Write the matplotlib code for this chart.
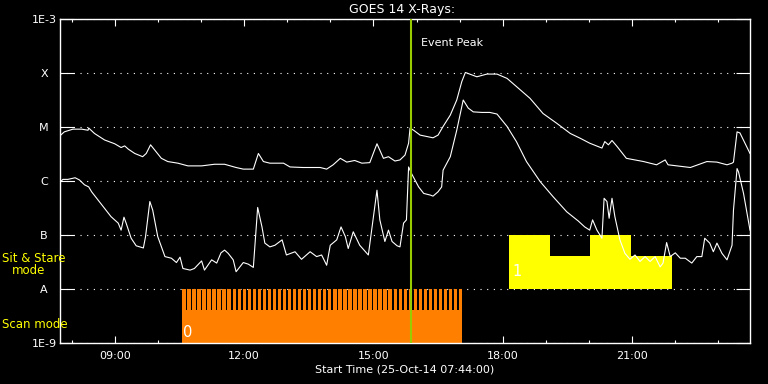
from datetime import datetime, timedelta

import matplotlib
matplotlib.use("Agg")
import matplotlib.pyplot as plt
import matplotlib.dates as mdates
from matplotlib.ticker import NullLocator

# Start of the plot window
start_time = datetime(2014, 10, 25, 7, 44, 0)

# GOES 14 long channel (1-8 A): minutes after start, log10 flux [W/m^2]
long_min = [1, 6, 18, 30, 39, 40, 48, 62, 76, 85, 90, 95, 104, 115, 120, 126, 132,
            141, 150, 164, 178, 197, 215, 229, 245, 255, 269, 276, 283, 292, 311,
            320, 338, 362, 371, 380, 390, 399, 410, 420, 431, 441, 450, 457, 466,
            473, 480, 485, 487, 492, 501, 519, 526, 533, 543, 552, 559, 564, 580,
            594, 608, 622, 635, 654, 672, 691, 710, 724, 737, 754, 758, 763, 768,
            775, 788, 812, 830, 842, 846, 877, 900, 914, 928, 935, 937, 942, 946, 960]
long_log = [-5.15, -5.09, -5.04, -5.04, -5.06, -5.02, -5.12, -5.24, -5.31, -5.38,
            -5.35, -5.41, -5.49, -5.55, -5.49, -5.33, -5.43, -5.58, -5.64, -5.67,
            -5.72, -5.72, -5.69, -5.69, -5.75, -5.78, -5.78, -5.49, -5.64, -5.67,
            -5.67, -5.74, -5.75, -5.75, -5.78, -5.70, -5.58, -5.65, -5.62, -5.67,
            -5.66, -5.31, -5.58, -5.55, -5.63, -5.61, -5.52, -5.30, -5.02, -5.06,
            -5.15, -5.20, -5.15, -4.99, -4.78, -4.50, -4.16, -3.99, -4.07, -4.02,
            -4.02, -4.10, -4.25, -4.47, -4.75, -4.93, -5.12, -5.21, -5.30, -5.39,
            -5.27, -5.33, -5.25, -5.36, -5.58, -5.64, -5.70, -5.61, -5.70, -5.75,
            -5.64, -5.65, -5.70, -5.67, -5.65, -5.09, -5.11, -5.49]

# GOES 14 short channel (0.5-4 A)
short_min = [1, 4, 11, 21, 27, 34, 40, 44, 58, 71, 81, 85, 89, 92, 99, 106, 116,
             119, 125, 129, 136, 146, 155, 162, 167, 171, 181, 187, 197, 201, 211,
             218, 224, 229, 234, 241, 245, 255, 262, 269, 275, 281, 285, 292, 299,
             309, 315, 327, 336, 348, 357, 364, 371, 376, 385, 391, 397, 401, 408,
             417, 429, 441, 445, 452, 457, 462, 469, 473, 478, 482, 485, 489, 499,
             506, 515, 519, 526, 531, 533, 543, 552, 561, 568, 575, 587, 598, 608,
             622, 635, 649, 668, 686, 705, 721, 730, 737, 741, 747, 754, 757, 761,
             764, 768, 772, 779, 786, 793, 800, 807, 814, 821, 828, 835, 839, 844,
             849, 856, 863, 870, 879, 886, 893, 897, 904, 909, 914, 921, 928, 935,
             937, 942, 944, 951, 960]
short_log = [-6.01, -5.97, -5.97, -5.94, -5.98, -6.07, -6.11, -6.20, -6.44, -6.66,
             -6.78, -6.91, -6.67, -6.78, -7.06, -7.20, -7.24, -7.03, -6.38, -6.54,
             -7.03, -7.40, -7.43, -7.51, -7.41, -7.62, -7.65, -7.62, -7.48, -7.65,
             -7.46, -7.52, -7.33, -7.28, -7.34, -7.46, -7.68, -7.51, -7.54, -7.60,
             -6.49, -6.85, -7.15, -7.22, -7.19, -7.09, -7.37, -7.31, -7.45, -7.31,
             -7.40, -7.37, -7.56, -7.19, -7.09, -6.85, -7.03, -7.25, -6.94, -7.19,
             -7.37, -6.17, -6.72, -7.12, -6.91, -7.12, -7.20, -7.22, -6.78, -6.72,
             -5.74, -5.86, -6.11, -6.23, -6.26, -6.28, -6.20, -6.11, -5.80, -5.55,
             -5.06, -4.50, -4.65, -4.72, -4.73, -4.73, -4.76, -4.99, -5.27, -5.64,
             -6.01, -6.29, -6.57, -6.74, -6.85, -6.91, -6.72, -6.91, -7.06, -6.32,
             -6.38, -6.69, -6.32, -6.66, -7.09, -7.34, -7.45, -7.37, -7.49, -7.40,
             -7.49, -7.40, -7.59, -7.52, -7.14, -7.40, -7.33, -7.43, -7.43, -7.52,
             -7.40, -7.40, -7.06, -7.15, -7.31, -7.15, -7.34, -7.46, -7.19, -6.54,
             -5.77, -5.83, -6.23, -6.91]

# Event peak (minutes after start)
event_peak_min = 488

# Scan mode observations (mode 0)
scan_first_min = 170
scan_last_min = 559
scan_cadence_min = 7.0
scan_exposure_min = 4.7
scan_base_top = 4.1e-9

# Sit & Stare observations (mode 1): start, end, top level
stare_start_min = [625, 682, 737, 794]
stare_end_min = [682, 737, 794, 852]
stare_top = [1e-7, 4.1e-8, 1e-7, 4.1e-8]

ytick_vals = [1e-9, 1e-8, 1e-7, 1e-6, 1e-5, 1e-4, 1e-3]
ytick_labels = ['1E-9', 'A', 'B', 'C', 'M', 'X', '1E-3']


def to_time(m):
    return start_time + timedelta(minutes=m)


fig = plt.figure(figsize=(7.68, 3.84), dpi=100, facecolor='black')
ax = fig.add_axes([60 / 768, 1 - 343 / 384, 690 / 768, 324 / 384])
ax.set_facecolor('black')
ax.set_yscale('log')

# Scan mode comb
minute = 1 / 1440.0
ax.bar(to_time(scan_first_min), scan_base_top - 1e-9, bottom=1e-9,
       width=(scan_last_min - scan_first_min) * minute, align='edge',
       color='#ff8000', linewidth=0, zorder=2)
scan_times = []
m = scan_first_min
while m < scan_last_min:
    scan_times.append(to_time(m))
    m += scan_cadence_min
scan_widths = [min(scan_exposure_min, scan_last_min - (t - start_time).total_seconds() / 60) * minute
               for t in scan_times]
ax.bar(scan_times, [9e-9] * len(scan_times), bottom=1e-9,
       width=scan_widths, align='edge',
       color='#ff8000', linewidth=0, zorder=2)

# Sit & stare blocks
for s, e, top in zip(stare_start_min, stare_end_min, stare_top):
    ax.bar(to_time(s), top - 1e-8, bottom=1e-8, width=(e - s) * minute,
           align='edge', color='#ffff00', linewidth=0, zorder=2)

# Light curves
ax.plot([to_time(v) for v in long_min], [10 ** v for v in long_log],
        color='white', lw=0.8, zorder=4)
ax.plot([to_time(v) for v in short_min], [10 ** v for v in short_log],
        color='white', lw=0.8, zorder=4)

ax.axvline(to_time(event_peak_min), color='#99cc00', lw=1.5, zorder=5)
ax.text(to_time(event_peak_min + 14), 10 ** -3.44, 'Event Peak', color='white',
        fontsize=8, va='center', ha='left')

ax.text(to_time(scan_first_min + 1), 10 ** -8.81, '0', color='white',
        fontsize=10.5, va='center', ha='left')
ax.text(to_time(stare_start_min[0] + 5), 10 ** -7.68, '1', color='white',
        fontsize=10.5, va='center', ha='left')

ax.set_xlim(to_time(0), to_time(960))
ax.set_ylim(1e-9, 1e-3)
ax.set_yticks(ytick_vals)
ax.set_yticklabels(ytick_labels)
ax.yaxis.set_minor_locator(NullLocator())
ax.xaxis.set_major_locator(mdates.HourLocator(byhour=[9, 12, 15, 18, 21]))
ax.xaxis.set_minor_locator(mdates.HourLocator())
ax.xaxis.set_major_formatter(mdates.DateFormatter('%H:%M'))

ax.grid(True, axis='y', color='white', linestyle=(0, (1, 5)), lw=0.8, zorder=1)
ax.set_axisbelow(True)

for sp in ax.spines.values():
    sp.set_color('white')
    sp.set_linewidth(1.0)

ax.tick_params(axis='both', which='both', direction='in', colors='white',
               top=True, right=True, labelsize=8, width=0.8)
ax.tick_params(axis='x', which='major', length=5, pad=6)
ax.tick_params(axis='x', which='minor', length=2.5)
ax.tick_params(axis='y', which='major', length=10, pad=11.5)
for lbl in ax.get_yticklabels():
    lbl.set_horizontalalignment('center')

fig.text(402 / 768, 1 - 9 / 384, 'GOES 14 X-Rays:', color='white', fontsize=9,
         ha='center', va='center')
fig.text(405 / 768, 1 - 370 / 384, 'Start Time (25-Oct-14 07:44:00)',
         color='white', fontsize=8, ha='center', va='center')
fig.text(2 / 768, 1 - 259 / 384, 'Sit & Stare', color='#ffff00', fontsize=8.5,
         ha='left', va='center')
fig.text(12 / 768, 1 - 271 / 384, 'mode', color='#ffff00', fontsize=8.5,
         ha='left', va='center')
fig.text(2 / 768, 1 - 324 / 384, 'Scan mode', color='#ffff00', fontsize=8.5,
         ha='left', va='center')

fig.savefig('out.png', dpi=100, facecolor='black')
